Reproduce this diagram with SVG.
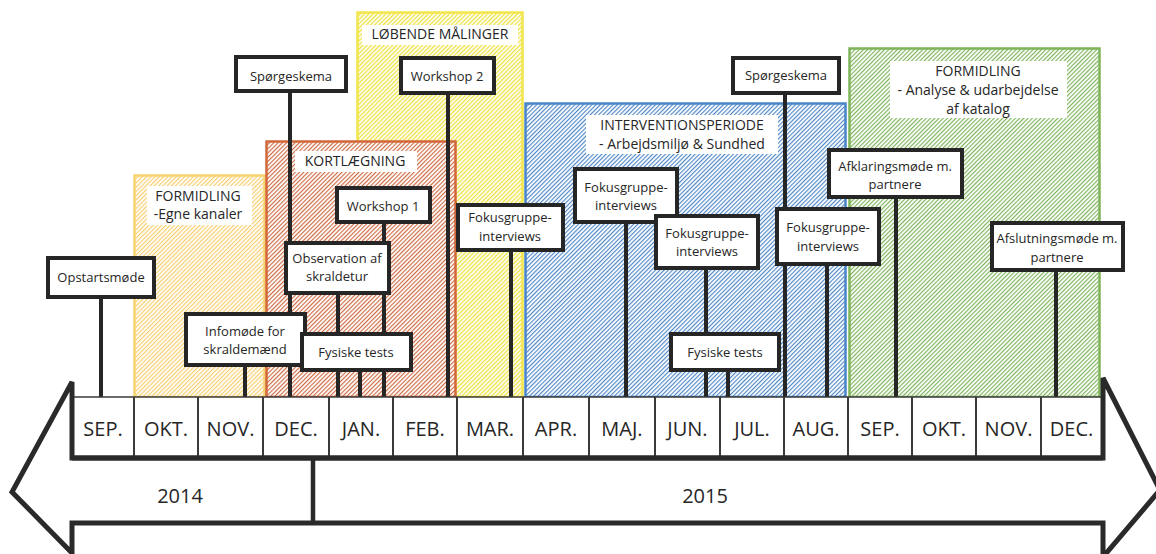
<svg xmlns="http://www.w3.org/2000/svg" width="1156" height="554" viewBox="0 0 1156 554">
<defs>
<pattern id="hO" patternUnits="userSpaceOnUse" width="3" height="3" patternTransform="rotate(45)"><rect width="3" height="3" fill="#fff"/><rect width="1.2" height="3" fill="#F7CF6E"/></pattern>
<pattern id="hR" patternUnits="userSpaceOnUse" width="3" height="3" patternTransform="rotate(45)"><rect width="3" height="3" fill="#fff"/><rect width="1.15" height="3" fill="#CF6A42"/></pattern>
<pattern id="hY" patternUnits="userSpaceOnUse" width="3" height="3" patternTransform="rotate(45)"><rect width="3" height="3" fill="#fff"/><rect width="1.3" height="3" fill="#EEE241"/></pattern>
<pattern id="hB" patternUnits="userSpaceOnUse" width="3" height="3" patternTransform="rotate(45)"><rect width="3" height="3" fill="#fff"/><rect width="1.15" height="3" fill="#4F87C8"/></pattern>
<pattern id="hG" patternUnits="userSpaceOnUse" width="3" height="3" patternTransform="rotate(45)"><rect width="3" height="3" fill="#fff"/><rect width="1.15" height="3" fill="#7DB35A"/></pattern>
</defs>
<style>
text{font-family:"Open Sans","Liberation Sans",sans-serif;fill:#262626;text-anchor:middle}
.ev rect{fill:#fff;stroke:#262626;stroke-width:4}
.ev text{font-size:13px}
.lbl{fill:#fff}
.rl{font-size:14px}
.stem line{stroke:#262626;stroke-width:4}
.mon{font-size:20px}
.sep{stroke:#3a3a3a;stroke-width:2}
.out{fill:none;stroke:#2a2a2a;stroke-width:5;stroke-linejoin:miter}
</style>

<g id="region-formidling-1">
<rect x="134.5" y="175.5" width="130" height="221.5" fill="url(#hO)" stroke="#F8D26E" stroke-width="2.5"/>
<rect class="lbl" x="147" y="186" width="105" height="39"/>
<text class="rl" x="198" y="201">FORMIDLING</text>
<text class="rl" x="198" y="219">-Egne kanaler</text>
</g>
<g id="region-lobende">
<rect x="357.5" y="12.5" width="165" height="384.5" fill="url(#hY)" stroke="#F2E64A" stroke-width="2.5"/>
<rect class="lbl" x="362" y="25" width="156" height="20"/>
<text class="rl" x="440" y="39">LØBENDE MÅLINGER</text>
</g>
<g id="region-kortlaegning">
<rect x="266.5" y="141.5" width="189" height="255.5" fill="url(#hR)" stroke="#D2673A" stroke-width="2.5"/>
<rect class="lbl" x="295" y="151" width="122" height="21"/>
<text class="rl" x="355" y="166">KORTLÆGNING</text>
</g>
<g id="region-intervention">
<rect x="525.5" y="103.5" width="320" height="293.5" fill="url(#hB)" stroke="#4A85C7" stroke-width="2.5"/>
<rect class="lbl" x="586" y="115" width="192" height="39"/>
<text class="rl" x="682" y="130">INTERVENTIONSPERIODE</text>
<text class="rl" x="682" y="149">- Arbejdsmiljø &amp; Sundhed</text>
</g>
<g id="region-formidling-2">
<rect x="849.5" y="48.5" width="250" height="348.5" fill="url(#hG)" stroke="#7FB45A" stroke-width="2.5"/>
<rect class="lbl" x="890" y="61" width="177" height="57"/>
<text class="rl" x="978" y="76">FORMIDLING</text>
<text class="rl" x="978" y="95">- Analyse &amp; udarbejdelse</text>
<text class="rl" x="978" y="114">af katalog</text>
</g>

<g id="connectors" class="stem">
<line x1="101" y1="297" x2="101" y2="397"/>
<line x1="290" y1="91" x2="290" y2="397"/>
<line x1="448" y1="93" x2="448" y2="397"/>
<line x1="785" y1="93" x2="785" y2="397"/>
<line x1="384" y1="222" x2="384" y2="397"/>
<line x1="338" y1="293" x2="338" y2="397"/>
<line x1="360" y1="370" x2="360" y2="397"/>
<line x1="245" y1="365" x2="245" y2="397"/>
<line x1="511" y1="250" x2="511" y2="397"/>
<line x1="626" y1="222" x2="626" y2="397"/>
<line x1="706" y1="268" x2="706" y2="397"/>
<line x1="728" y1="370" x2="728" y2="397"/>
<line x1="827" y1="264" x2="827" y2="397"/>
<line x1="896" y1="197" x2="896" y2="397"/>
<line x1="1056" y1="270" x2="1056" y2="397"/>
</g>

<g id="ev-opstart" class="ev"><rect x="48" y="258" width="106" height="39"/><text x="101" y="282">Opstartsmøde</text></g>
<g id="ev-sporgeskema-1" class="ev"><rect x="236" y="57" width="110" height="34"/><text x="291" y="81">Spørgeskema</text></g>
<g id="ev-workshop-2" class="ev"><rect x="401" y="58" width="93" height="35"/><text x="447" y="81">Workshop 2</text></g>
<g id="ev-sporgeskema-2" class="ev"><rect x="733" y="58" width="106" height="35"/><text x="786" y="80">Spørgeskema</text></g>
<g id="ev-workshop-1" class="ev"><rect x="337" y="188" width="93" height="34"/><text x="383" y="211">Workshop 1</text></g>
<g id="ev-observation" class="ev"><rect x="286" y="243" width="103" height="50"/><text x="337" y="263">Observation af</text><text x="337" y="281">skraldetur</text></g>
<g id="ev-infomode" class="ev"><rect x="186" y="314" width="119" height="51"/><text x="245" y="336">Infomøde for</text><text x="245" y="354">skraldemænd</text></g>
<g id="ev-fysiske-1" class="ev"><rect x="302" y="334" width="109" height="36"/><text x="356" y="357">Fysiske tests</text></g>
<g id="ev-fokus-1" class="ev"><rect x="458" y="205" width="105" height="45"/><text x="510" y="222">Fokusgruppe-</text><text x="510" y="241">interviews</text></g>
<g id="ev-fokus-2" class="ev"><rect x="575" y="169" width="102" height="53"/><text x="626" y="192">Fokusgruppe-</text><text x="626" y="210">interviews</text></g>
<g id="ev-fokus-3" class="ev"><rect x="656" y="216" width="102" height="52"/><text x="707" y="238">Fokusgruppe-</text><text x="707" y="256">interviews</text></g>
<g id="ev-fysiske-2" class="ev"><rect x="671" y="334" width="108" height="36"/><text x="725" y="357">Fysiske tests</text></g>
<g id="ev-fokus-4" class="ev"><rect x="777" y="209" width="102" height="55"/><text x="828" y="232">Fokusgruppe-</text><text x="828" y="251">interviews</text></g>
<g id="ev-afklaring" class="ev"><rect x="829" y="150" width="133" height="47"/><text x="895" y="171">Afklaringsmøde m.</text><text x="895" y="189">partnere</text></g>
<g id="ev-afslutning" class="ev"><rect x="992" y="223" width="131" height="47"/><text x="1057" y="243">Afslutningsmøde m.</text><text x="1057" y="262">partnere</text></g>

<g id="timeline">
<rect x="72" y="397" width="1031" height="61" fill="#fff" stroke="#3a3a3a" stroke-width="1.5"/>
<g class="sep">
<line x1="134" y1="397" x2="134" y2="458"/><line x1="198" y1="397" x2="198" y2="458"/><line x1="263" y1="397" x2="263" y2="458"/><line x1="329" y1="397" x2="329" y2="458"/><line x1="393" y1="397" x2="393" y2="458"/><line x1="457" y1="397" x2="457" y2="458"/><line x1="523" y1="397" x2="523" y2="458"/><line x1="589" y1="397" x2="589" y2="458"/><line x1="655" y1="397" x2="655" y2="458"/><line x1="720" y1="397" x2="720" y2="458"/><line x1="784" y1="397" x2="784" y2="458"/><line x1="848" y1="397" x2="848" y2="458"/><line x1="912" y1="397" x2="912" y2="458"/><line x1="976" y1="397" x2="976" y2="458"/><line x1="1041" y1="397" x2="1041" y2="458"/>
</g>
<text class="mon" x="103" y="436">SEP.</text>
<text class="mon" x="166" y="436">OKT.</text>
<text class="mon" x="230.5" y="436">NOV.</text>
<text class="mon" x="296" y="436">DEC.</text>
<text class="mon" x="361" y="436">JAN.</text>
<text class="mon" x="425" y="436">FEB.</text>
<text class="mon" x="490" y="436">MAR.</text>
<text class="mon" x="556" y="436">APR.</text>
<text class="mon" x="622" y="436">MAJ.</text>
<text class="mon" x="687.5" y="436">JUN.</text>
<text class="mon" x="752" y="436">JUL.</text>
<text class="mon" x="816" y="436">AUG.</text>
<text class="mon" x="880" y="436">SEP.</text>
<text class="mon" x="944" y="436">OKT.</text>
<text class="mon" x="1008.5" y="436">NOV.</text>
<text class="mon" x="1071.5" y="436">DEC.</text>
<path class="out" d="M72,458 L72,382 L12,492 L72,553 L72,523 L1103,523 L1103,557 L1160,490 L1103,378 L1103,458 Z"/>
<line x1="72" y1="458" x2="1103" y2="458" stroke="#2a2a2a" stroke-width="5"/>
<line x1="313" y1="458" x2="313" y2="523" stroke="#2a2a2a" stroke-width="4.5"/>
<text class="mon" x="180" y="503">2014</text>
<text class="mon" x="705" y="503">2015</text>
</g>
</svg>
